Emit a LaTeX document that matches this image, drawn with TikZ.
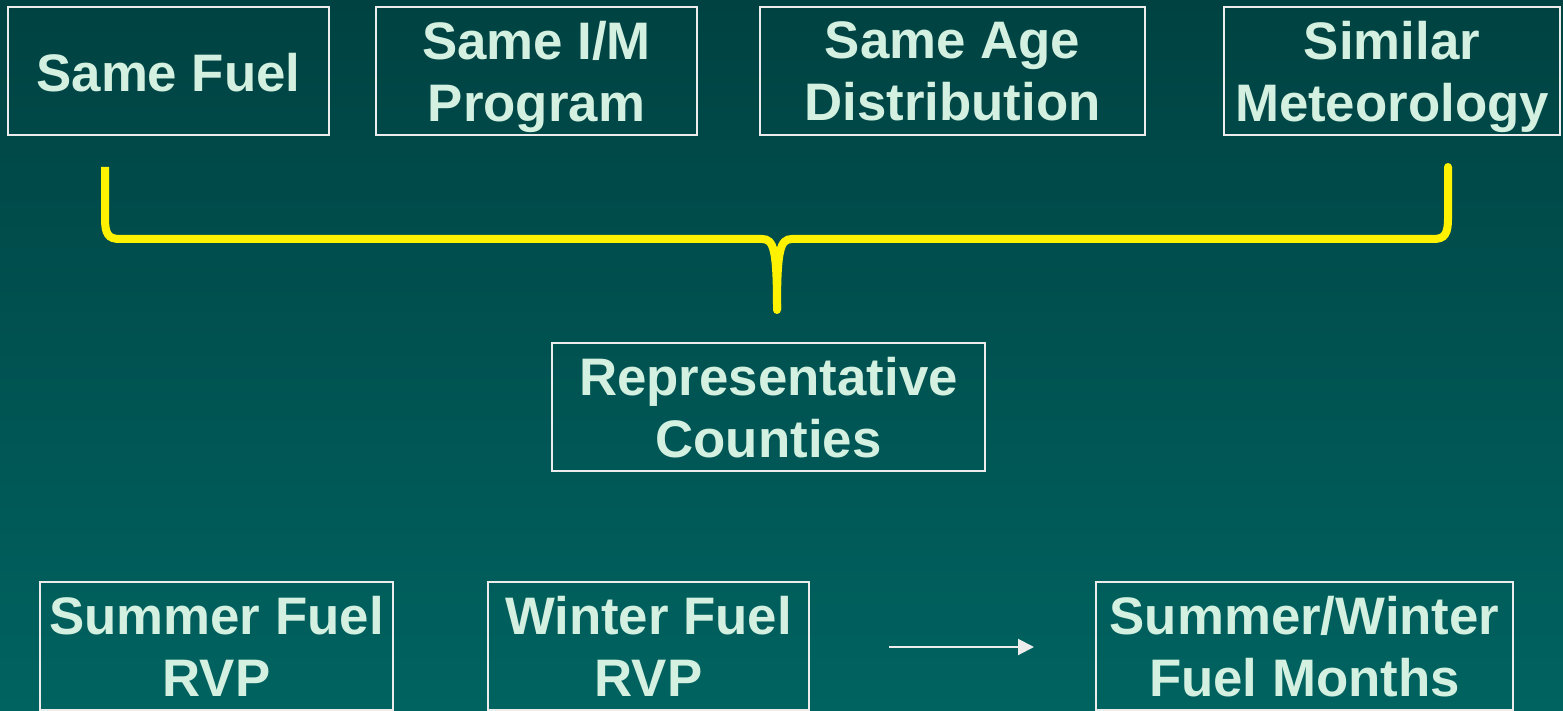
\documentclass[tikz,border=0pt]{standalone}
\usepackage{fontspec}
\setmainfont{Liberation Sans}
\usepackage{xcolor}
\definecolor{bg-top}{RGB}{0,66,66}
\definecolor{bg-bot}{RGB}{0,99,96}
\definecolor{mint}{RGB}{212,240,224}
\definecolor{edge}{RGB}{236,236,236}
\usepackage{tikz}
\usetikzlibrary{arrows.meta,positioning}

\tikzset{
  factor/.style={draw=edge,line width=1pt,text=mint,align=center,inner sep=0pt,
    minimum height=64pt,font=\bfseries\fontsize{26.4}{31}\selectfont,
    text depth=0pt,execute at begin node=\rule{0pt}{21pt}},
  brace/.style={draw=yellow,line width=4pt},
}

\begin{document}
\begin{tikzpicture}[x=0.5pt,y=-0.5pt]
    \shade[top color=bg-top,bottom color=bg-bot] (0,0) rectangle (1563,711);
    \useasboundingbox (0,0) rectangle (1563,711);
    % matching criteria
    \node[factor,minimum width=160.5pt] (fuel) at (168.5,71) {Same Fuel};
    \node[factor,minimum width=160.5pt] (im) at (536.5,71) {Same I/M\\Program};
    \node[factor,minimum width=192.5pt] (age) at (952.5,71) {Same Age\\Distribution};
    \node[factor,minimum width=168pt] (met) at (1392,71) {Similar\\Meteorology};
    \node[factor,minimum width=216.5pt] (rep) at (768.5,407) {Representative\\Counties};
    % fuel inputs
    \node[factor,minimum width=176.5pt] (summer) at (216.5,646) {Summer Fuel\\RVP};
    \node[factor,minimum width=160.5pt] (winter) at (648.5,646) {Winter Fuel\\RVP};
    \node[factor,minimum width=208.5pt] (months) at (1304.5,646) {Summer/Winter\\Fuel Months};
    \coordinate (a0) at (889,647);
    \coordinate (a1) at (1034,647);
    \draw[edge,line width=1pt,-{Triangle[length=8pt,width=8pt]}] (a0) -- (a1);
    % brace
    \draw[brace] (105,167) -- (105,218) .. controls (105,234) and (108,239) .. (120,239)
      -- (762,239) .. controls (774,239) and (777,250) .. (777,310);
    \draw[brace,line cap=round] (777,310) .. controls (777,250) and (780,239) .. (792,239)
      -- (1433,239) .. controls (1445,239) and (1448,234) .. (1448,218) -- (1448,167);
\end{tikzpicture}
\end{document}
